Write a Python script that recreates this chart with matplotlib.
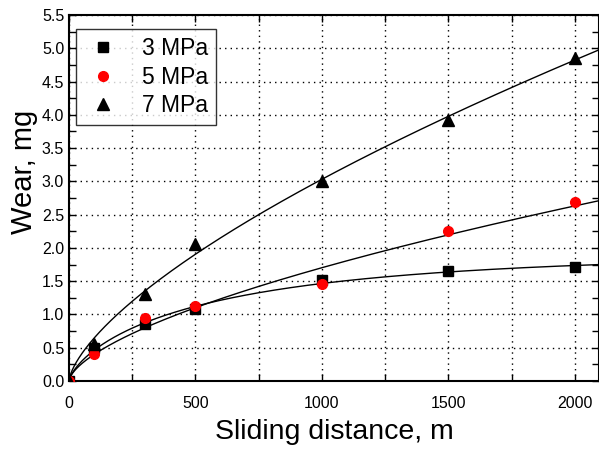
import numpy as np
import matplotlib
matplotlib.use("Agg")
import matplotlib.pyplot as plt
from matplotlib.ticker import MultipleLocator, FormatStrFormatter

plt.rcParams['font.family'] = ['Liberation Sans', 'DejaVu Sans']

distance = [0, 100, 300, 500, 1000, 1500, 2000]
wear_3 = [0.0, 0.50, 0.85, 1.08, 1.52, 1.65, 1.71]
wear_5 = [0.0, 0.40, 0.94, 1.13, 1.46, 2.25, 2.69]
wear_7 = [0.0, 0.55, 1.31, 2.06, 3.01, 3.92, 4.85]
labels = ["3 MPa", "5 MPa", "7 MPa"]

x = np.array(distance, dtype=float)
xs = np.linspace(0, 2100, 800)


def power_fit(y):
    # least-squares power-law trendline y = a * x^b
    y = np.array(y, dtype=float)
    best = None
    for b in np.linspace(0.2, 1.5, 1301):
        f = x ** b
        a = np.dot(f, y) / np.dot(f, f)
        err = np.sum((a * f - y) ** 2)
        if best is None or err < best[0]:
            best = (err, a, b)
    _, a, b = best
    return a * xs ** b


def sat_fit(y):
    # least-squares saturating trendline y = a * (1 - exp(-(x/c)^p))
    y = np.array(y, dtype=float)
    best = None
    for c in np.linspace(100, 1500, 141):
        for p in np.linspace(0.3, 1.5, 121):
            f = 1 - np.exp(-(x / c) ** p)
            a = np.dot(f, y) / np.dot(f, f)
            err = np.sum((a * f - y) ** 2)
            if best is None or err < best[0]:
                best = (err, a, c, p)
    _, a, c, p = best
    return a * (1 - np.exp(-(xs / c) ** p))


fig = plt.figure(figsize=(5.99, 4.5), dpi=100)
ax = fig.add_axes([69 / 599, 1 - 381 / 450, 1 - 69 / 599, (381 - 15) / 450])

ax.plot(xs, sat_fit(wear_3), color='black', lw=1.0, zorder=2)
ax.plot(xs, power_fit(wear_5), color='black', lw=1.0, zorder=2)
ax.plot(xs, power_fit(wear_7), color='black', lw=1.0, zorder=2)

ax.plot(distance, wear_3, 's', color='black', ms=6.5, label=labels[0], zorder=3)
ax.plot(distance, wear_5, 'o', color='red', ms=7, label=labels[1], zorder=3)
ax.plot(distance, wear_7, '^', color='black', ms=8, label=labels[2], zorder=3)

ax.set_xlim(0, 2095)
ax.set_ylim(0, 5.5)
ax.xaxis.set_major_locator(MultipleLocator(500))
ax.xaxis.set_minor_locator(MultipleLocator(250))
ax.yaxis.set_major_locator(MultipleLocator(0.5))
ax.yaxis.set_minor_locator(MultipleLocator(0.25))
ax.yaxis.set_major_formatter(FormatStrFormatter('%.1f'))

ax.grid(True, which='major', axis='y', color='black', ls=(0, (1, 3)), lw=1.0)
ax.grid(True, which='both', axis='x', color='black', ls=(0, (1, 3)), lw=1.0)

ax.tick_params(which='both', direction='in', top=True, right=True,
               length=5, width=1.0, labelsize=11.5, colors='black')
ax.tick_params(axis='x', which='major', pad=11)
for s in ax.spines.values():
    s.set_linewidth(1.5)

ax.set_xlabel("Sliding distance, m", fontsize=20.5)
ax.xaxis.set_label_coords(0.5, -0.105)
ax.set_ylabel("Wear, mg", fontsize=21)
ax.yaxis.set_label_coords(-0.058, 0.571)

leg = ax.legend(loc='upper left', bbox_to_anchor=(0.014, 0.962), fontsize=16.5,
                frameon=True, fancybox=False, edgecolor='black',
                handletextpad=0.9, labelspacing=0.25, borderpad=0.35,
                handlelength=1.6, borderaxespad=0)
leg.get_frame().set_linewidth(1.0)

fig.savefig("out.png", dpi=100)
